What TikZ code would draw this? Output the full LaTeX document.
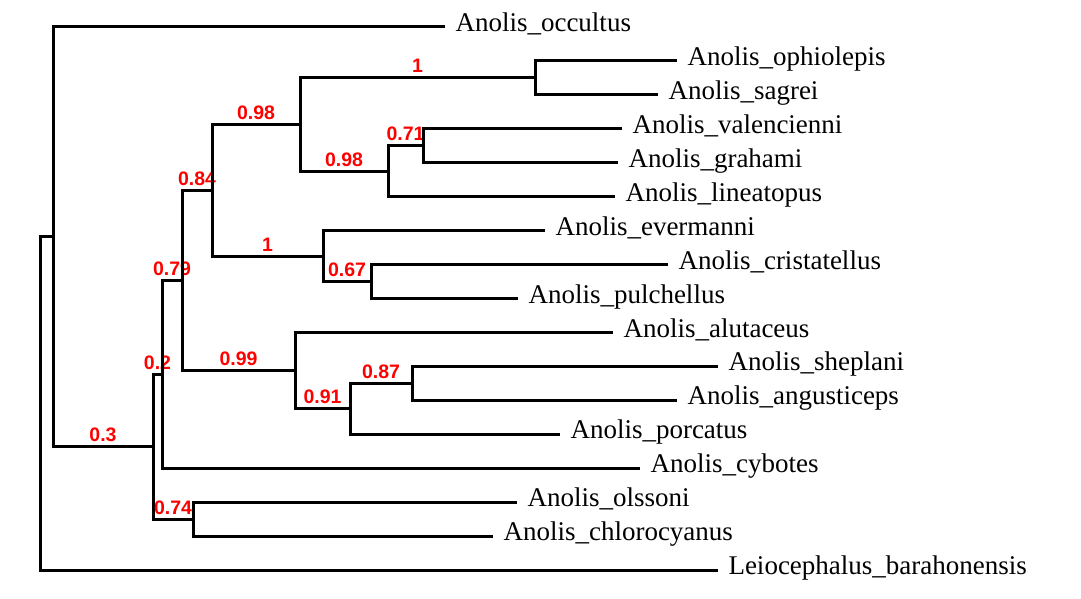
\documentclass[tikz,border=0pt]{standalone}
\usepackage{fontspec}
\setmainfont{Liberation Serif}
\newfontfamily\labelfont{Liberation Sans}

\begin{document}
\begin{tikzpicture}[x=0.5pt, y=-0.5pt, line width=1.5pt,
    elbow/.style={to path={|- (\tikztotarget) \tikztonodes}},
    taxon/.style={anchor=mid west, inner xsep=4.5pt, inner ysep=0pt, font=\fontsize{13.5}{16}\selectfont},
    support/.style={pos=0.75, anchor=base, inner sep=0pt, yshift=2.5pt, text=red, font=\labelfont\bfseries\fontsize{9.75}{11}\selectfont}]

    \useasboundingbox (0 , 0) rectangle (1081 , 599);

    % tips
    \node [taxon] (occultus) at (445 , 27) {Anolis\_occultus};
    \node [taxon] (ophiolepis) at (677 , 60.9) {Anolis\_ophiolepis};
    \node [taxon] (sagrei) at (658 , 94.9) {Anolis\_sagrei};
    \node [taxon] (valencienni) at (622 , 128.8) {Anolis\_valencienni};
    \node [taxon] (grahami) at (618 , 162.8) {Anolis\_grahami};
    \node [taxon] (lineatopus) at (615 , 196.7) {Anolis\_lineatopus};
    \node [taxon] (evermanni) at (545 , 230.6) {Anolis\_evermanni};
    \node [taxon] (cristatellus) at (668 , 264.6) {Anolis\_cristatellus};
    \node [taxon] (pulchellus) at (518 , 298.5) {Anolis\_pulchellus};
    \node [taxon] (alutaceus) at (613 , 332.5) {Anolis\_alutaceus};
    \node [taxon] (sheplani) at (718 , 366.4) {Anolis\_sheplani};
    \node [taxon] (angusticeps) at (677 , 400.3) {Anolis\_angusticeps};
    \node [taxon] (porcatus) at (560 , 434.3) {Anolis\_porcatus};
    \node [taxon] (cybotes) at (640 , 468.2) {Anolis\_cybotes};
    \node [taxon] (olssoni) at (517 , 502.2) {Anolis\_olssoni};
    \node [taxon] (chlorocyanus) at (493 , 536.1) {Anolis\_chlorocyanus};
    \node [taxon] (leiocephalus) at (718 , 570) {Leiocephalus\_barahonensis};

    % inner nodes
    \coordinate (n1) at (535 , 77.9);
    \coordinate (n2) at (423 , 145.8);
    \coordinate (n3) at (388 , 171.25);
    \coordinate (n4) at (300 , 124.6);
    \coordinate (n5) at (371 , 281.55);
    \coordinate (n6) at (323 , 256.1);
    \coordinate (n7) at (212 , 190.35);
    \coordinate (n8) at (412 , 383.35);
    \coordinate (n9) at (350 , 408.8);
    \coordinate (n10) at (295 , 370.65);
    \coordinate (n11) at (182 , 280.5);
    \coordinate (n12) at (162 , 374.35);
    \coordinate (n13) at (193 , 519.15);
    \coordinate (n14) at (153 , 446.75);
    \coordinate (n15) at (53 , 236.9);
    \coordinate (root) at (40 , 403.45);

 \path[line join=miter]
      (root) edge[elbow] (n15)
      (root) edge[elbow] (leiocephalus.mid west)
      (n15) edge[elbow] (occultus.mid west)
      (n15) edge[elbow] node[support] {0.3} (n14)
      (n14) edge[elbow] node[support] {0.2} (n12)
      (n14) edge[elbow] node[support] {0.74} (n13)
      (n13) edge[elbow] (olssoni.mid west)
      (n13) edge[elbow] (chlorocyanus.mid west)
      (n12) edge[elbow] node[support] {0.79} (n11)
      (n12) edge[elbow] (cybotes.mid west)
      (n11) edge[elbow] node[support] {0.84} (n7)
      (n11) edge[elbow] node[support] {0.99} (n10)
      (n10) edge[elbow] (alutaceus.mid west)
      (n10) edge[elbow] node[support] {0.91} (n9)
      (n9) edge[elbow] node[support] {0.87} (n8)
      (n9) edge[elbow] (porcatus.mid west)
      (n8) edge[elbow] (sheplani.mid west)
      (n8) edge[elbow] (angusticeps.mid west)
      (n7) edge[elbow] node[support] {0.98} (n4)
      (n7) edge[elbow] node[support] {1} (n6)
      (n6) edge[elbow] (evermanni.mid west)
      (n6) edge[elbow] node[support] {0.67} (n5)
      (n5) edge[elbow] (cristatellus.mid west)
      (n5) edge[elbow] (pulchellus.mid west)
      (n4) edge[elbow] node[support] {1} (n1)
      (n4) edge[elbow] node[support] {0.98} (n3)
      (n3) edge[elbow] node[support] {0.71} (n2)
      (n3) edge[elbow] (lineatopus.mid west)
      (n2) edge[elbow] (valencienni.mid west)
      (n2) edge[elbow] (grahami.mid west)
      (n1) edge[elbow] (ophiolepis.mid west)
      (n1) edge[elbow] (sagrei.mid west);
\end{tikzpicture}
\end{document}
